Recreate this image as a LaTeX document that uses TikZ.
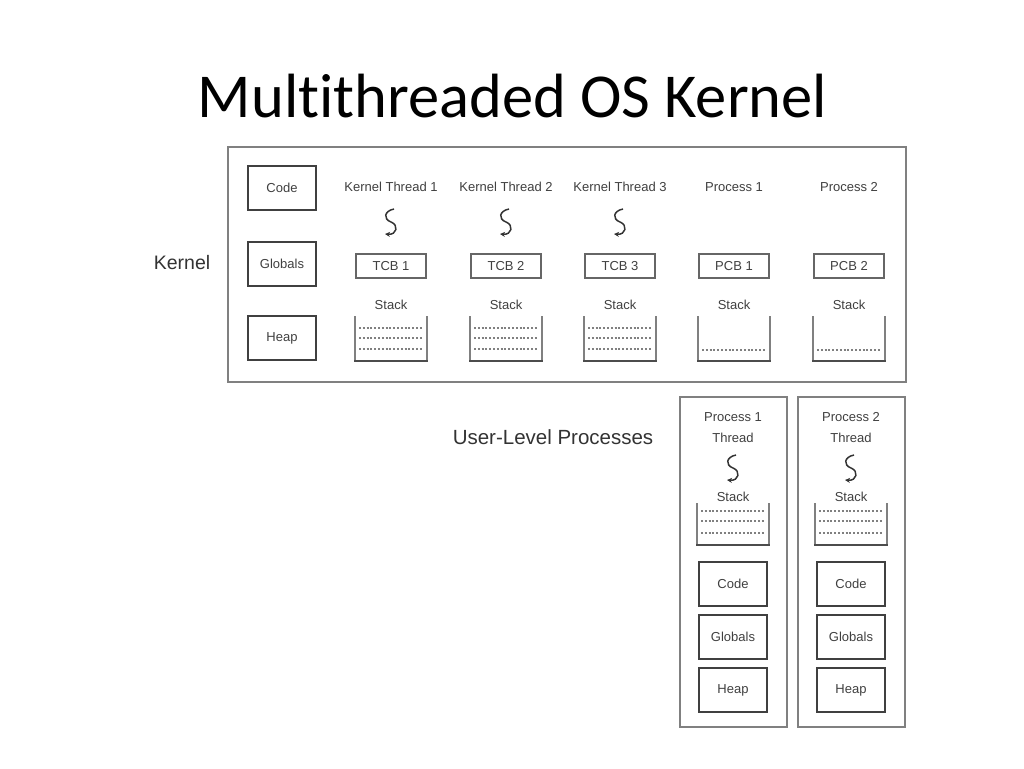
\documentclass[tikz,border=0pt]{standalone}
\usepackage{fontspec}
\setmainfont{Liberation Sans}
\newfontfamily\titlefont[Ligatures=NoCommon]{Carlito}
\usetikzlibrary{arrows.meta}
\newcommand{\thrsquig}[2]{%
  \draw[thr,shift={(#1,#2)}] (3,0) .. controls (-7,2) and (-8,10) .. (0,13)
    .. controls (8,16) and (6,26) .. (-6,25);}
\newcommand{\stackbin}[4]{% x center, top y, bottom y, rows
  \draw[stackside] (#1-36,#2) -- (#1-36,#3);
  \draw[stackside] (#1+36,#2) -- (#1+36,#3);
  \draw[stackbase] (#1-37,#3) -- (#1+37,#3);
  \foreach \ry in {#4} {
    \draw[stackrow] (#1-32,\ry) -- (#1+32,\ry);
  }}
\begin{document}
\begin{tikzpicture}[x=1pt,y=-1pt,
  lbl/.style={inner sep=0pt,text=black!75,font=\fontsize{13}{13}\selectfont},
  membox/.style={draw=black!75,line width=1.8pt,minimum width=68pt,
    minimum height=44pt,inner sep=0pt,text=black!75,
    font=\fontsize{13}{13}\selectfont},
  cbbox/.style={draw=black!60,line width=1.4pt,minimum width=70pt,
    minimum height=24pt,inner sep=0pt,text=black!75,
    font=\fontsize{13}{13}\selectfont},
  frame/.style={draw=black!50,line width=2.5pt},
  thr/.style={-{Stealth[length=5pt,width=5pt]},line width=1.5pt,black!80},
  stackside/.style={black!50,line width=1.4pt},
  stackbase/.style={black!70,line width=2pt},
  stackrow/.style={black!50,line width=2pt,dash pattern=on 2pt off 1.8pt}]
\useasboundingbox[fill=white] (0,0) rectangle (1024,768);

% title
\node[anchor=base,inner sep=0pt] (title) at (512.5,117)
  {\titlefont\fontsize{62.5}{63}\selectfont Multithreaded OS Kernel};

% kernel
\draw[frame] (228,147) rectangle (906,382);
\node[inner sep=0pt,text=black!80,font=\fontsize{19.5}{20}\selectfont]
  (kernel) at (182,263) {Kernel};
\node[membox] (code) at (282,188) {Code};
\node[membox] (globals) at (282,264) {Globals};
\node[membox] (heap) at (282,338) {Heap};

\foreach \cx/\hd/\cb [count=\i] in {391/Kernel Thread 1/TCB 1,
    506/Kernel Thread 2/TCB 2, 620/Kernel Thread 3/TCB 3,
    734/Process 1/PCB 1, 849/Process 2/PCB 2} {
  \node[lbl] (head\i) at (\cx,187) {\hd};
  \node[cbbox] (cb\i) at (\cx,266) {\cb};
  \node[lbl] (kstk\i) at (\cx,305) {Stack};
}
\foreach \cx in {391,506,620} {
  \thrsquig{\cx}{209}
  \stackbin{\cx}{316}{361}{328,338,349}
}
\foreach \cx in {734,849} {
  \stackbin{\cx}{316}{361}{350}
}

% user level processes
\node[inner sep=0pt,text=black!80,font=\fontsize{20.5}{21}\selectfont]
  (user) at (553,437) {User-Level Processes};
\foreach \bx/\cx [count=\i] in {680/733, 798/851} {
  \draw[frame] (\bx,397) rectangle (\bx+107,727);
  \node[lbl] (up\i) at (\cx,417) {Process \i};
  \node[lbl] (ut\i) at (\cx,438) {Thread};
  \thrsquig{\cx}{455}
  \node[lbl] (ustk\i) at (\cx,497) {Stack};
  \stackbin{\cx}{503}{545}{511,521,533}
  \node[membox] (ucode\i) at (\cx,584) {Code};
  \node[membox] (uglob\i) at (\cx,637) {Globals};
  \node[membox] (uheap\i) at (\cx,690) {Heap};
}
\end{tikzpicture}
\end{document}
